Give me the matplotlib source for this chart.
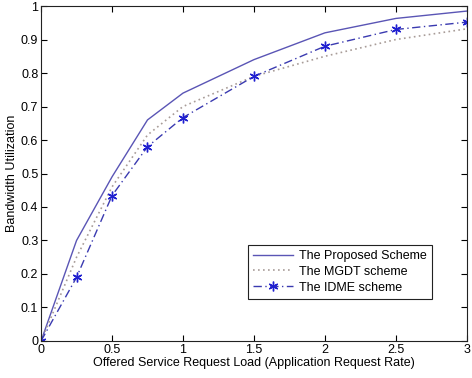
import matplotlib.pyplot as plt
import numpy as np

plt.rcParams['font.family'] = ['Liberation Sans', 'DejaVu Sans']

load = [0, 0.25, 0.5, 0.75, 1, 1.5, 2, 2.5, 3]
proposed = [0, 0.30, 0.49, 0.66, 0.74, 0.84, 0.92, 0.963, 0.985]
mgdt = [0, 0.25, 0.46, 0.615, 0.70, 0.79, 0.85, 0.90, 0.932]
idme = [0, 0.19, 0.434, 0.58, 0.667, 0.79, 0.88, 0.93, 0.952]

fig = plt.figure(figsize=(4.72, 3.78), dpi=100)
ax = fig.add_axes([0.087, 0.098, 0.902, 0.886])

ax.plot(load, proposed, c='#5a55b5', lw=1.0, label='The Proposed Scheme')
ax.plot(load, mgdt, c='#a89c98', lw=1.2, ls=(0, (1, 2)), label='The MGDT scheme')
ax.plot(load, idme, c='#3a3ab0', lw=1.0, ls=(0, (6, 2.5, 1, 2.5)),
        marker=(6, 2, 0), ms=7, mew=1.0, mec='#2020d0', label='The IDME scheme')

ax.set_xlim(0, 3)
ax.set_ylim(0, 1)
ax.set_xticks(np.arange(0, 3.01, 0.5))
ax.set_xticklabels(['0', '0.5', '1', '1.5', '2', '2.5', '3'])
ax.set_yticks(np.arange(0, 1.01, 0.1))
ax.set_yticklabels(['0', '0.1', '0.2', '0.3', '0.4', '0.5', '0.6', '0.7', '0.8', '0.9', '1'])
ax.tick_params(direction='in', top=True, right=True, labelsize=9, length=4, pad=2)
for s in ax.spines.values():
    s.set_linewidth(0.8)
    s.set_color('#222222')

ax.set_xlabel('Offered Service Request Load (Application Request Rate)', fontsize=9, labelpad=1)
ax.set_ylabel('Bandwidth Utilization', fontsize=9, labelpad=2)

leg = ax.legend(loc='lower right', bbox_to_anchor=(0.933, 0.108), fontsize=9,
                fancybox=False, framealpha=1, edgecolor='#222222',
                handlelength=3.2, borderpad=0.4, labelspacing=0.3, handletextpad=0.5)
leg.get_frame().set_linewidth(0.8)

fig.savefig('out.png', dpi=100)
